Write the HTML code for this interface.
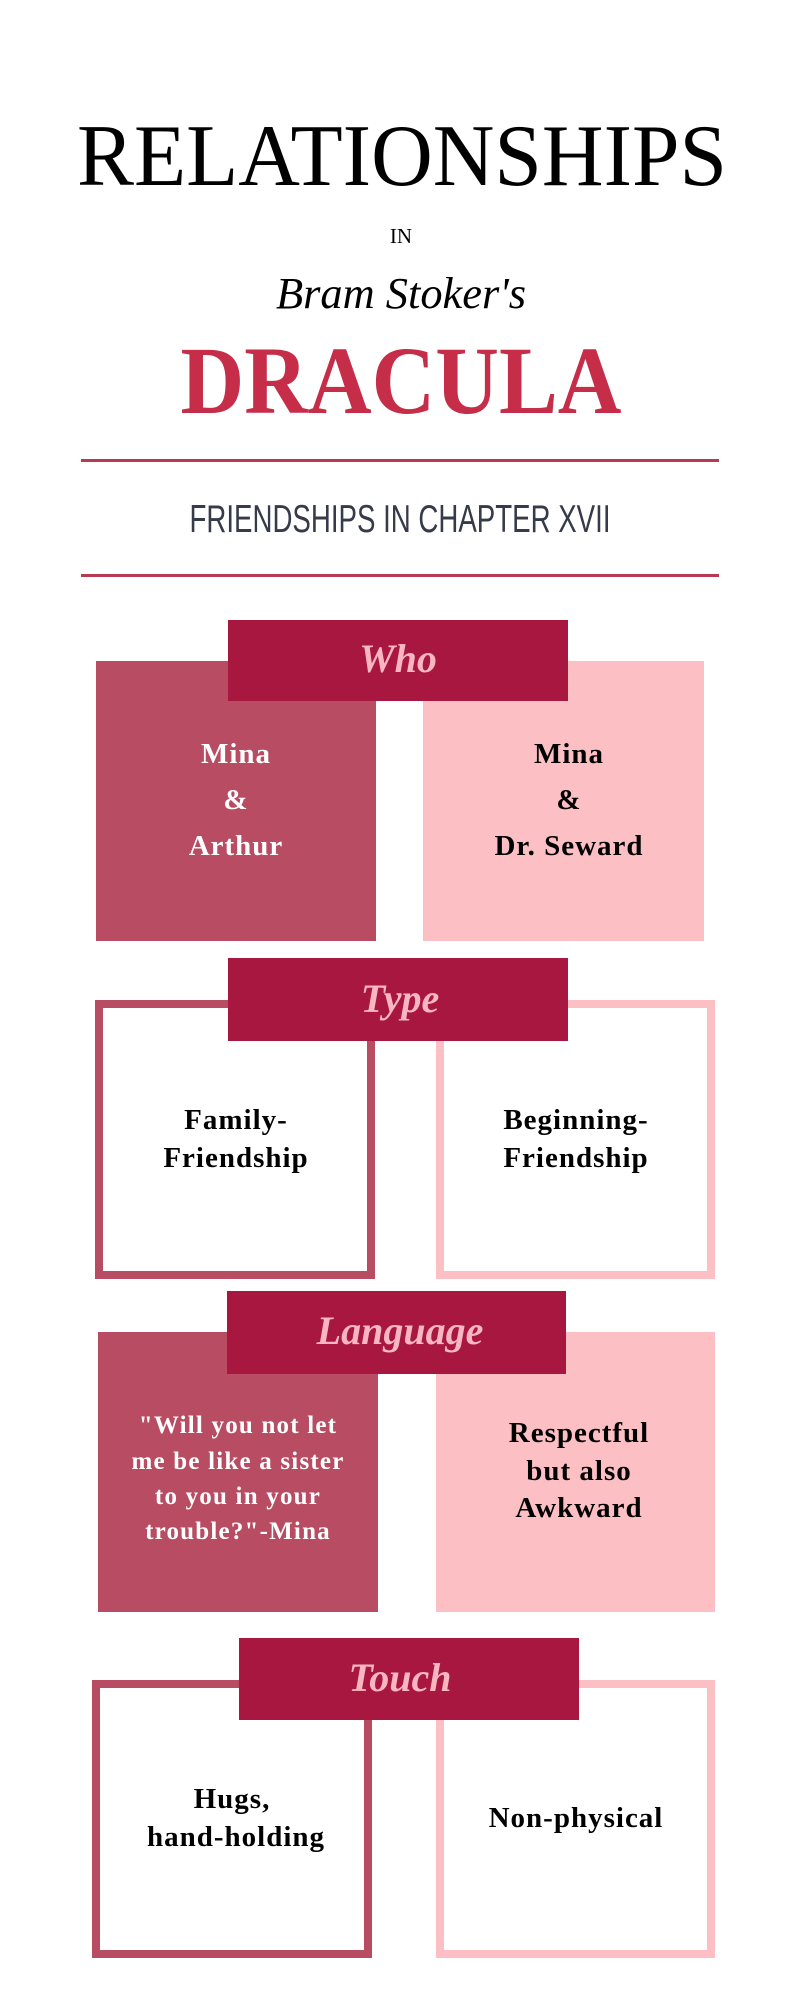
<!DOCTYPE html>
<html><head><meta charset="utf-8"><style>
html,body{margin:0;padding:0;background:#fff;}
svg{display:block;}
.h{font-family:"Liberation Serif",serif;font-weight:bold;font-style:italic;fill:#f8b6c1;}
.b{font-family:"Liberation Serif",serif;font-weight:bold;font-size:29px;letter-spacing:1px;}
</style></head><body>
<svg width="800" height="2000" viewBox="0 0 800 2000" xmlns="http://www.w3.org/2000/svg">
<rect width="800" height="2000" fill="#fff"/>
<text x="402" y="185" text-anchor="middle" font-family="Liberation Serif, serif" font-size="88" textLength="650" lengthAdjust="spacingAndGlyphs" fill="#000">RELATIONSHIPS</text>
<text x="401" y="243" text-anchor="middle" font-family="Liberation Serif, serif" font-size="21" fill="#000">IN</text>
<text x="401" y="308" text-anchor="middle" font-family="Liberation Serif, serif" font-style="italic" font-size="44" textLength="250" lengthAdjust="spacingAndGlyphs" fill="#000">Bram Stoker's</text>
<text x="401" y="413" text-anchor="middle" font-family="Liberation Serif, serif" font-weight="bold" font-size="96" textLength="441" lengthAdjust="spacingAndGlyphs" fill="#c52d48">DRACULA</text>
<rect x="81" y="459" width="638" height="3" fill="#b83a52"/>
<text x="400" y="532" text-anchor="middle" font-family="Liberation Sans Narrow, Liberation Sans, sans-serif" font-size="39" textLength="421" lengthAdjust="spacingAndGlyphs" fill="#363b4a">FRIENDSHIPS IN CHAPTER XVII</text>
<rect x="81" y="574" width="638" height="3" fill="#b83a52"/>

<!-- Who -->
<rect x="96" y="661" width="280" height="280" fill="#b74c62"/>
<rect x="423" y="661" width="281" height="280" fill="#fbbfc4"/>
<rect x="228" y="620" width="340" height="81" fill="#a8173f"/>
<text x="398" y="672" text-anchor="middle" class="h" font-size="40">Who</text>
<g class="b" text-anchor="middle">
<text x="236" y="763" fill="#fff">Mina</text>
<text x="236" y="809" fill="#fff">&amp;</text>
<text x="236" y="855" fill="#fff">Arthur</text>
<text x="569" y="763" fill="#000">Mina</text>
<text x="569" y="809" fill="#000">&amp;</text>
<text x="569" y="855" fill="#000">Dr. Seward</text>
</g>

<!-- Type -->
<rect x="99" y="1004" width="272" height="271" fill="none" stroke="#b74c62" stroke-width="8"/>
<rect x="440" y="1004" width="271" height="271" fill="none" stroke="#fbbfc4" stroke-width="8"/>
<rect x="228" y="958" width="340" height="83" fill="#a8173f"/>
<text x="400" y="1012" text-anchor="middle" class="h" font-size="40">Type</text>
<g class="b" text-anchor="middle" fill="#000">
<text x="236" y="1129">Family-</text>
<text x="236" y="1167">Friendship</text>
<text x="576" y="1129">Beginning-</text>
<text x="576" y="1167">Friendship</text>
</g>

<!-- Language -->
<rect x="98" y="1332" width="280" height="280" fill="#b74c62"/>
<rect x="436" y="1332" width="279" height="280" fill="#fbbfc4"/>
<rect x="227" y="1291" width="339" height="83" fill="#a8173f"/>
<text x="400" y="1344" text-anchor="middle" class="h" font-size="40">Language</text>
<g font-family="Liberation Serif, serif" font-weight="bold" font-size="25" letter-spacing="1.2" text-anchor="middle" fill="#fff">
<text x="238" y="1433">"Will you not let</text>
<text x="238" y="1469">me be like a sister</text>
<text x="238" y="1504">to you in your</text>
<text x="238" y="1539">trouble?"-Mina</text>
</g>
<g class="b" text-anchor="middle" fill="#000">
<text x="579" y="1442">Respectful</text>
<text x="579" y="1480">but also</text>
<text x="579" y="1517">Awkward</text>
</g>

<!-- Touch -->
<rect x="96" y="1684" width="272" height="270" fill="none" stroke="#b74c62" stroke-width="8"/>
<rect x="440" y="1684" width="271" height="270" fill="none" stroke="#fbbfc4" stroke-width="8"/>
<rect x="239" y="1638" width="340" height="82" fill="#a8173f"/>
<text x="400" y="1691" text-anchor="middle" class="h" font-size="40">Touch</text>
<g class="b" text-anchor="middle" fill="#000">
<text x="232" y="1808">Hugs,</text>
<text x="236" y="1846">hand-holding</text>
<text x="576" y="1827">Non-physical</text>
</g>
</svg>
</body></html>
